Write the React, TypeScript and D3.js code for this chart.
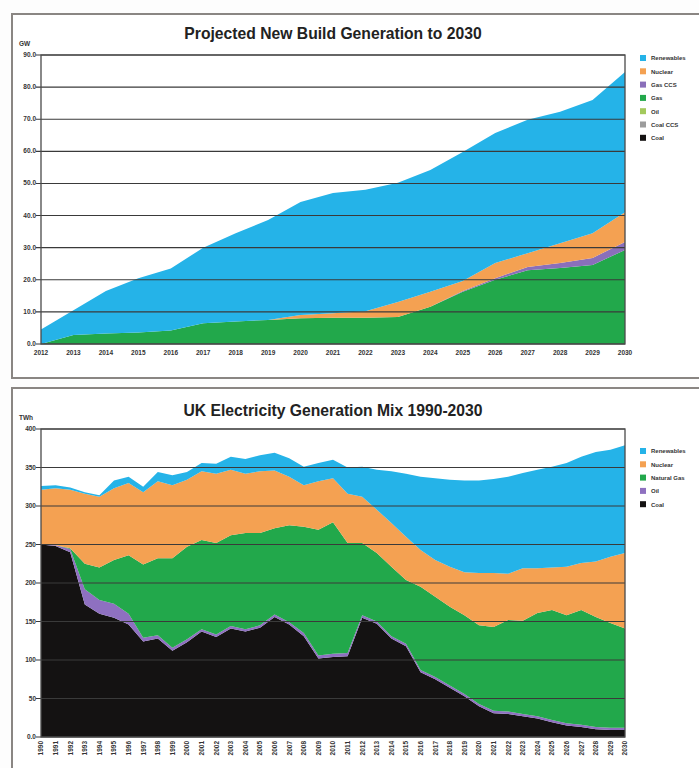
import React from "react";
import * as d3 from "d3";

// ---- Projected New Build Generation to 2030 (GW)
const buildYears = [2012, 2013, 2014, 2015, 2016, 2017, 2018, 2019, 2020, 2021, 2022, 2023, 2024, 2025, 2026, 2027, 2028, 2029, 2030];
const buildCoal = [0, 0, 0, 0, 0, 0, 0, 0, 0, 0, 0, 0, 0, 0, 0, 0, 0, 0, 0];
const buildCoalCcs = [0, 0, 0, 0, 0, 0, 0, 0, 0, 0, 0, 0, 0, 0, 0, 0, 0, 0, 0];
const buildOil = [0, 0, 0, 0, 0, 0, 0, 0, 0, 0, 0, 0, 0, 0, 0, 0, 0, 0, 0];
const buildGas = [0, 2.8, 3.3, 3.6, 4.2, 6.5, 7, 7.5, 8, 8.2, 8.2, 8.4, 11.6, 16.3, 20, 23, 23.7, 24.6, 29.3];
const buildGasCcs = [0, 0, 0, 0, 0, 0, 0, 0, 0, 0, 0, 0, 0, 0.2, 0.5, 1, 1.5, 2.2, 2.5];
const buildNuclear = [0, 0, 0, 0, 0, 0, 0, 0, 1, 1.4, 2, 4.7, 4.7, 3.1, 4.7, 4.3, 6.2, 7.7, 9.2];
const buildRenewables = [4.5, 7.7, 13.2, 16.9, 19.3, 23.5, 27.5, 31.1, 35.2, 37.4, 37.8, 37.1, 37.9, 40.2, 40.5, 41.5, 40.9, 41.5, 43.7];
const buildTicks = [0, 10, 20, 30, 40, 50, 60, 70, 80, 90];

// ---- UK Electricity Generation Mix 1990-2030 (TWh)
const mixYears = d3.range(1990, 2031);
const mixCoal = [250, 248, 240, 172, 160, 155, 146, 124, 128, 112, 123, 137, 130, 141, 137, 142, 156, 146, 131, 102, 104, 105, 155, 147, 128, 118, 84, 75, 64, 53, 40, 31, 30, 27, 24, 19, 15, 13, 10, 9, 9];
const mixOil = [0, 1, 4, 20, 18, 18, 14, 5, 4, 4, 4, 3, 3, 3, 3, 3, 3, 3, 4, 4, 4, 4, 3, 3, 3, 3, 3, 3, 3, 3, 3, 3, 3, 3, 3, 3, 3, 3, 3, 3, 3];
const mixGas = [0, 0, 1, 33, 42, 57, 76, 95, 100, 116, 120, 116, 119, 118, 125, 120, 112, 126, 138, 163, 171, 143, 94, 89, 90, 83, 108, 104, 102, 102, 102, 109, 119, 121, 134, 143, 140, 149, 143, 136, 129];
const mixNuclear = [71, 74, 76, 91, 92, 93, 94, 94, 100, 95, 87, 89, 90, 85, 77, 80, 75, 63, 54, 63, 57, 64, 60, 56, 57, 56, 48, 48, 52, 56, 68, 70, 60, 68, 58, 55, 63, 61, 72, 86, 98];
const mixRenewables = [5, 4, 3, 2, 2, 10, 8, 7, 12, 13, 10, 11, 13, 17, 19, 21, 23, 24, 24, 24, 24, 34, 39, 52, 67, 82, 95, 106, 113, 119, 120, 122, 126, 124, 128, 131, 135, 138, 142, 139, 140];
const mixTicks = [0, 50, 100, 150, 200, 250, 300, 350, 400];

const C = {
  renew: "#25b3e8",
  nuclear: "#f4a152",
  gasCcs: "#8a6fba",
  gas: "#22a84b",
  oil: "#a3c95c",
  coalCcs: "#9c9c9c",
  coal: "#141212",
  oilPurple: "#8e70c0",
};

type Series = { name: string; values: number[]; color: string };

const buildSeries: Series[] = [
  { name: "Coal", values: buildCoal, color: C.coal },
  { name: "Coal CCS", values: buildCoalCcs, color: C.coalCcs },
  { name: "Oil", values: buildOil, color: C.oil },
  { name: "Gas", values: buildGas, color: C.gas },
  { name: "Gas CCS", values: buildGasCcs, color: C.gasCcs },
  { name: "Nuclear", values: buildNuclear, color: C.nuclear },
  { name: "Renewables", values: buildRenewables, color: C.renew },
];

const mixSeries: Series[] = [
  { name: "Coal", values: mixCoal, color: C.coal },
  { name: "Oil", values: mixOil, color: C.oilPurple },
  { name: "Natural Gas", values: mixGas, color: C.gas },
  { name: "Nuclear", values: mixNuclear, color: C.nuclear },
  { name: "Renewables", values: mixRenewables, color: C.renew },
];

const FONT = "'Liberation Sans', Arial, sans-serif";

type PanelProps = {
  title: string;
  unit: string;
  years: number[];
  series: Series[];
  ticks: number[];
  tickFmt: (v: number) => string;
  top: number; // panel top
  bottom: number; // panel bottom
  plotTop: number;
  plotBottom: number;
  titleY: number;
  legendY: number;
  rotateX?: boolean;
};

function Panel(p: PanelProps) {
  const left = 41, right = 625;
  const x = d3.scaleLinear().domain([p.years[0], p.years[p.years.length - 1]]).range([left, right]);
  const y = d3.scaleLinear().domain([0, p.ticks[p.ticks.length - 1]]).range([p.plotBottom, p.plotTop]);
  const rows = p.years.map((yr, i) => {
    const r: any = { year: yr };
    p.series.forEach((s) => (r[s.name] = s.values[i]));
    return r;
  });
  const stacked = d3.stack<any>().keys(p.series.map((s) => s.name))(rows);
  const area = d3
    .area<any>()
    .x((d) => x(d.data.year))
    .y0((d) => y(d[0]))
    .y1((d) => y(d[1]));
  const legend = [...p.series].reverse();
  return (
    <g>
      <rect x={12} y={p.top} width={720} height={p.bottom - p.top} fill="#fff" stroke="#8a8683" strokeWidth={2} />
      <text x={333} y={p.titleY} textAnchor="middle" fontFamily={FONT} fontWeight="bold" fontSize={15.7} fill="#222">
        {p.title}
      </text>
      {stacked.map((layer, i) => (
        <path key={layer.key} d={area(layer) || ""} fill={p.series[i].color} />
      ))}
      {p.ticks.map((t) => (
        <g key={t}>
          <line x1={left - 5} x2={right} y1={y(t)} y2={y(t)} stroke="#3a3a3a" strokeWidth={1.1} />
          <text x={36} y={y(t) + 2} textAnchor="end" fontFamily={FONT} fontWeight="bold" fontSize={6.5} fill="#333">
            {p.tickFmt(t)}
          </text>
        </g>
      ))}
      <text x={19} y={p.plotTop - 9} fontFamily={FONT} fontWeight="bold" fontSize={6.5} fill="#333">
        {p.unit}
      </text>
      <rect x={left} y={p.plotTop} width={right - left} height={p.plotBottom - p.plotTop} fill="none" stroke="#4a4a4a" strokeWidth={1.3} />
      {p.years.map((yr) =>
        p.rotateX ? (
          <text
            key={yr}
            transform={`translate(${x(yr) + 2.3},${p.plotBottom + 4}) rotate(-90)`}
            textAnchor="end"
            fontFamily={FONT}
            fontWeight="bold"
            fontSize={6.5}
            fill="#333"
          >
            {yr}
          </text>
        ) : (
          <text key={yr} x={x(yr)} y={p.plotBottom + 11} textAnchor="middle" fontFamily={FONT} fontWeight="bold" fontSize={6.5} fill="#333">
            {yr}
          </text>
        )
      )}
      {legend.map((s, i) => (
        <g key={s.name} transform={`translate(640,${p.legendY + i * 13.3})`}>
          <rect x={0} y={-3} width={6} height={6} fill={s.color} />
          <text x={11} y={2.3} fontFamily={FONT} fontWeight="bold" fontSize={6} fill="#333">
            {s.name}
          </text>
        </g>
      ))}
    </g>
  );
}

export default function App() {
  return (
    <svg width={699} height={768} style={{ position: "absolute", left: 0, top: 0, background: "#fff" }}>
      <rect width={699} height={768} fill="#fdfdfd" />
      <Panel
        title="Projected New Build Generation to 2030"
        unit="GW"
        years={buildYears}
        series={buildSeries}
        ticks={buildTicks}
        tickFmt={(v) => v.toFixed(1)}
        top={14}
        bottom={378}
        plotTop={55}
        plotBottom={344}
        titleY={39}
        legendY={58}
      />
      <Panel
        title="UK Electricity Generation Mix 1990-2030"
        unit="TWh"
        years={mixYears}
        series={mixSeries}
        ticks={mixTicks}
        tickFmt={(v) => (v === 0 ? "0.0" : String(v))}
        top={388}
        bottom={790}
        plotTop={429}
        plotBottom={737}
        titleY={416}
        legendY={451}
        rotateX
      />
    </svg>
  );
}
